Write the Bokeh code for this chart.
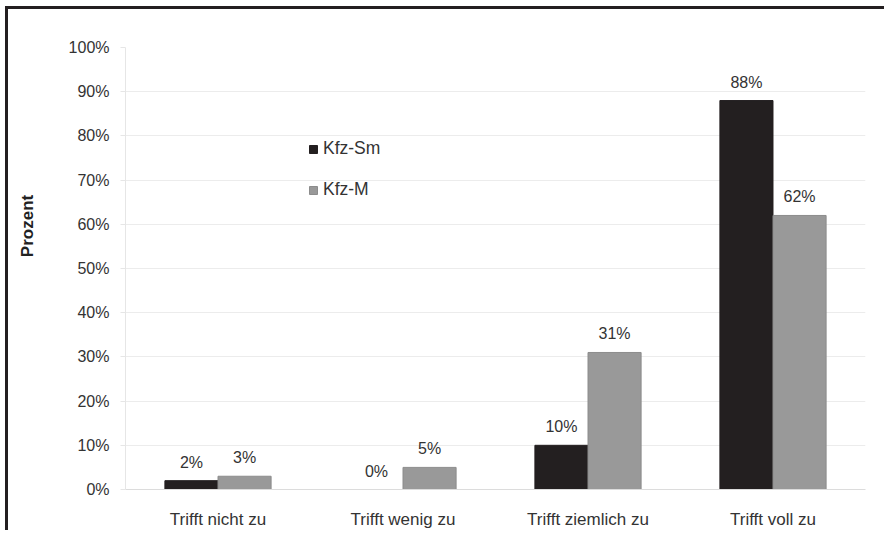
from bokeh.plotting import figure
from bokeh.models import (ColumnDataSource, FactorRange, Legend, LegendItem, FixedTicker,
                          CustomJSTickFormatter)
from bokeh.transform import dodge
from bokeh.core.properties import value
from bokeh.embed import file_html
from bokeh.resources import INLINE

# Survey answers and shares (percent) for both groups
categories = ["Trifft nicht zu", "Trifft wenig zu", "Trifft ziemlich zu", "Trifft voll zu"]
kfz_sm = [2, 0, 10, 88]
kfz_m = [3, 5, 31, 62]
series_names = ["Kfz-Sm", "Kfz-M"]
y_ticks = [0, 10, 20, 30, 40, 50, 60, 70, 80, 90, 100]

FONT = "Liberation Sans"
BLACK = "#231f20"
GREY = "#999999"
TEXT = "#333333"
BAR_W = 0.287

src = ColumnDataSource(dict(
    cat=categories,
    sm=kfz_sm,
    m=kfz_m,
    sm_lbl=[f"{v}%" for v in kfz_sm],
    m_lbl=[f"{v}%" for v in kfz_m],
))

p = figure(
    x_range=FactorRange(factors=categories, range_padding=0),
    y_range=(0, 100),
    width=879, height=524,
    output_backend="svg", toolbar_location=None,
    min_border_left=117, min_border_right=22,
    min_border_top=38, min_border_bottom=44,
)
p.styles = {
    "margin-left": "5px", "margin-top": "6px",
    "border-top": "3px solid #231f20", "border-left": "3px solid #231f20",
}
p.outline_line_color = None

r_sm = p.vbar(x=dodge("cat", -BAR_W / 2, range=p.x_range), top="sm", width=BAR_W,
              source=src, fill_color=BLACK, line_color=BLACK)
r_m = p.vbar(x=dodge("cat", BAR_W / 2, range=p.x_range), top="m", width=BAR_W,
             source=src, fill_color=GREY, line_color="#8c8c8c")

# value labels above the bars
for col, lbl, off in (("sm", "sm_lbl", -BAR_W / 2), ("m", "m_lbl", BAR_W / 2)):
    p.text(x=dodge("cat", off, range=p.x_range), y=col, text=lbl, source=src,
           text_align="center", text_baseline="bottom", y_offset=-10,
           text_font=value(FONT), text_font_size="16px", text_color=TEXT)

# y axis; the em spaces before the title lift it above the axis middle
p.yaxis.ticker = FixedTicker(ticks=y_ticks)
p.yaxis.formatter = CustomJSTickFormatter(code="return tick + '%'")
p.yaxis.axis_label = "\u2003" * 5 + "Prozent"
p.yaxis.axis_label_standoff = 29
p.yaxis.axis_label_text_font = FONT
p.yaxis.axis_label_text_font_style = "bold"
p.yaxis.axis_label_text_font_size = "17px"
p.yaxis.axis_label_text_color = "#222222"
p.yaxis.major_label_text_font = FONT
p.yaxis.major_label_text_font_size = "16px"
p.yaxis.major_label_text_color = TEXT
p.yaxis.major_label_standoff = 11
p.yaxis.axis_line_color = "#e6e6e6"
p.yaxis.major_tick_line_color = "#e6e6e6"
p.yaxis.major_tick_out = 5
p.yaxis.major_tick_in = 0
p.yaxis.minor_tick_line_color = None

# x axis
p.xaxis.major_label_text_font = FONT
p.xaxis.major_label_text_font_size = "17px"
p.xaxis.major_label_text_color = TEXT
p.xaxis.major_label_standoff = 14
p.xaxis.axis_line_color = "#dcdcdc"
p.xaxis.major_tick_line_color = None
p.xaxis.minor_tick_line_color = None

p.xgrid.grid_line_color = None
p.ygrid.grid_line_color = "#ececec"

legend = Legend(
    items=[LegendItem(label=series_names[0], renderers=[r_sm]),
           LegendItem(label=series_names[1], renderers=[r_m])],
    location=(183, 289),
    label_text_font=FONT, label_text_font_size="17.5px", label_text_color=TEXT,
    glyph_width=10, glyph_height=10, label_height=20, spacing=20,
    label_standoff=5, padding=0, margin=0,
    border_line_color=None, background_fill_alpha=0,
)
p.add_layout(legend)

open("out.html", "w").write(file_html(p, INLINE))
